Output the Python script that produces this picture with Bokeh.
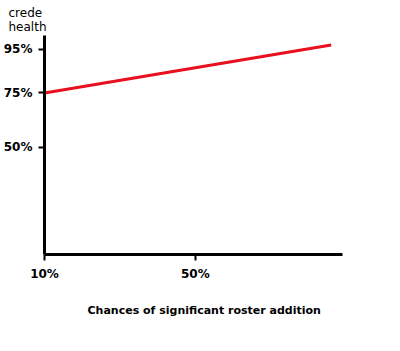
from bokeh.plotting import figure
from bokeh.models import FixedTicker, Range1d, Title
from bokeh.embed import file_html
from bokeh.resources import INLINE

# data
x_values = [10, 86]          # chances of significant roster addition (%)
y_values = [75, 97]          # crede health (%)
y_ticks = [50, 75, 95]
y_tick_labels = ["50%", "75%", "95%"]
x_ticks = [10, 50]
x_tick_labels = ["10%", "50%"]
y_title = "crede\nhealth"
x_title = "Chances of significant roster addition"

FONT = "DejaVu Sans"

p = figure(width=400, height=351, output_backend="svg", toolbar_location=None,
           x_range=Range1d(10, 89), y_range=Range1d(0.7, 101.4),
           min_border_left=44, min_border_right=58, min_border_top=35,
           min_border_bottom=97)
p.outline_line_color = None
p.xgrid.visible = False
p.ygrid.visible = False
p.background_fill_color = "white"
p.border_fill_color = "white"

p.line(x_values, y_values, line_color="#e8101e", line_width=3)

for ax in (p.xaxis[0], p.yaxis[0]):
    ax.axis_line_color = "black"
    ax.axis_line_width = 3
    ax.major_tick_line_color = "black"
    ax.major_tick_line_width = 2
    ax.major_tick_in = 0
    ax.major_tick_out = 6
    ax.minor_tick_line_color = None
    ax.major_label_text_font = FONT
    ax.major_label_text_font_style = "bold"
    ax.major_label_text_font_size = "12px"
    ax.major_label_text_color = "black"
    ax.major_label_standoff = 6

p.yaxis[0].ticker = FixedTicker(ticks=y_ticks)
p.yaxis[0].major_label_overrides = {t: l for t, l in zip(y_ticks, y_tick_labels)}
p.xaxis[0].ticker = FixedTicker(ticks=x_ticks)
p.xaxis[0].major_label_overrides = {t: l for t, l in zip(x_ticks, x_tick_labels)}

p.add_layout(Title(text=y_title, align="left", offset=-36, standoff=4,
                   text_font=FONT, text_font_style="normal", text_font_size="12px",
                   text_color="black"), "above")
p.add_layout(Title(text=x_title, align="left", offset=43, standoff=37,
                   text_font=FONT, text_font_style="bold", text_font_size="11px",
                   text_color="black"), "below")

open("out.html", "w").write(file_html(p, INLINE))
